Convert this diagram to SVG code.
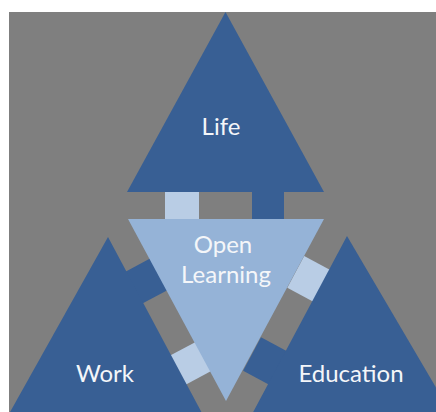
<svg xmlns="http://www.w3.org/2000/svg" width="436" height="412" viewBox="0 0 436 412">
  <style>
    .dark { fill: #385f94; }
    .ol { fill: #95b3d7; }
    .tab-light { fill: #b9cde5; }
    .tab-dark { fill: #385f94; }
    .label { font-family: Lato, "Open Sans", "Liberation Sans", sans-serif; font-size: 24px; fill: #f4f6f9; text-anchor: middle; }
  </style>
  <rect x="0" y="0" width="436" height="412" fill="#ffffff"/>
  <rect x="9" y="12" width="427" height="400" fill="#7f7f7f"/>

  <g id="connectors">
    <!-- Life / Open Learning gap -->
    <rect class="tab-light" x="165" y="190" width="34" height="31"/>
    <rect class="tab-dark" x="252" y="190" width="32" height="31"/>
    <!-- Work / Open Learning gap -->
    <polygon class="tab-dark" points="151.9,257.6 168.8,289.4 141.4,304.0 124.5,272.2"/>
    <polygon class="tab-light" points="196.6,341.4 212.1,370.6 184.7,385.2 169.2,356.0"/>
    <!-- Education / Open Learning gap -->
    <polygon class="tab-light" points="304.2,256.1 287.3,287.8 313.8,301.9 330.7,270.2"/>
    <polygon class="tab-dark" points="261.0,337.3 243.1,370.8 269.6,384.9 287.5,351.4"/>
  </g>

  <g id="life">
    <polygon class="dark" points="225.5,12 324,192 127,192"/>
    <text class="label" x="221" y="135">Life</text>
  </g>

  <g id="work">
    <polygon class="dark" points="108,237 211,430 0,430"/>
    <text class="label" x="105" y="382">Work</text>
  </g>

  <g id="education">
    <polygon class="dark" points="347,236 461,430 243.6,430"/>
    <text class="label" x="351" y="382">Education</text>
  </g>

  <g id="open-learning">
    <polygon class="ol" points="128,219 324,219 226,401"/>
    <text class="label" x="223" y="253">Open</text>
    <text class="label" x="226" y="283">Learning</text>
  </g>
</svg>
